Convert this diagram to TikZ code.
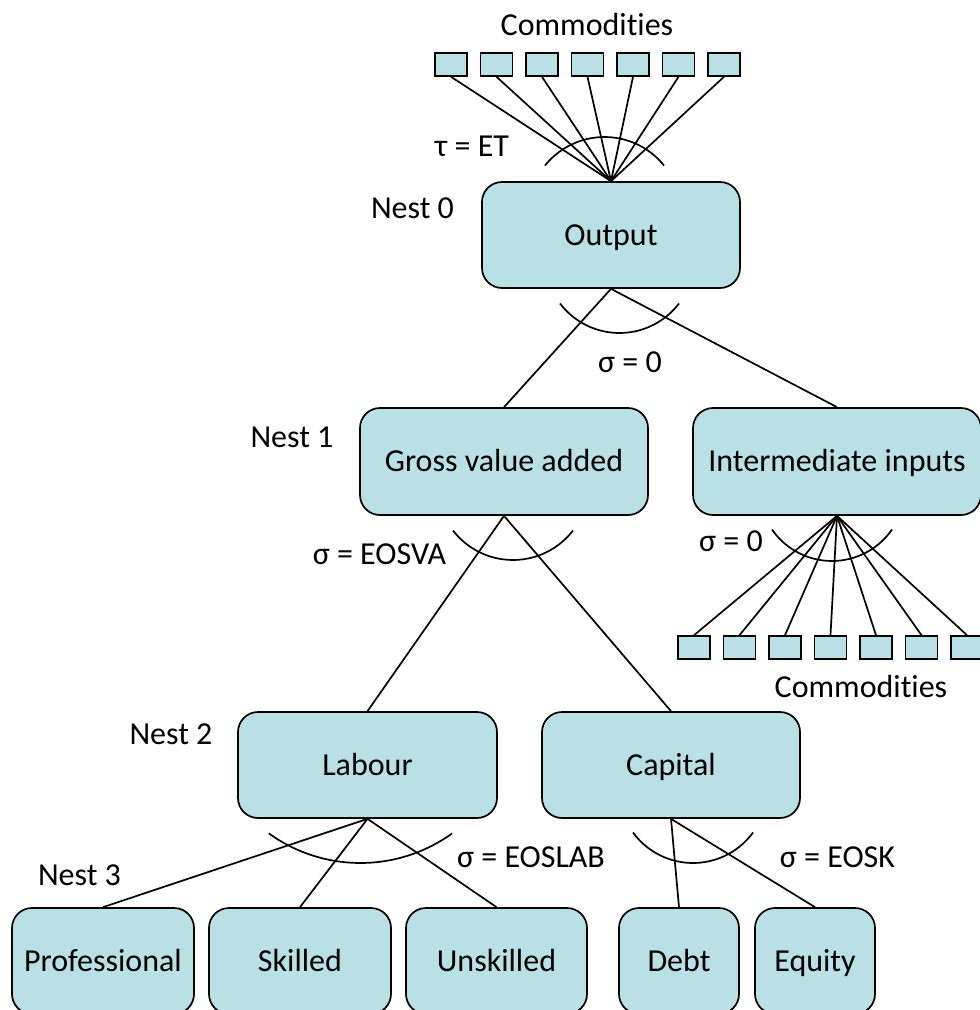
\documentclass[tikz,border=0pt]{standalone}
\usepackage{fontspec}
\setmainfont{Carlito}[Ligatures={NoCommon}]
\definecolor{boxfill}{RGB}{185,224,228}
\newcommand{\cmdtext}{Commodit\kern0pt ies}
\begin{document}
\begin{tikzpicture}[x=1pt,y=1pt,yscale=-1,
  box/.style={draw, line width=1.7pt, fill=boxfill, rounded corners=20pt, inner sep=0pt,
    text height=20.5pt, text depth=0pt, font=\fontsize{32}{38}\selectfont},
  com/.style={draw, line width=1.6pt, fill=boxfill, minimum width=32pt, minimum height=23pt, inner sep=0pt},
  lbl/.style={anchor=base, inner sep=0pt, font=\fontsize{32}{38}\selectfont},
  conn/.style={line width=1.7pt}]
\useasboundingbox (0,0) rectangle (980,1010);
\clip (0,0) rectangle (980,1010);
% main boxes
\node[box, minimum width=258pt, minimum height=106pt] (out) at (611,235) {Output};
\node[box, minimum width=288pt, minimum height=107pt] (gva) at (504,461.5) {Gross value added};
\node[box, minimum width=288pt, minimum height=107pt] (ii) at (837,461.5) {Intermediate inputs};
\node[box, minimum width=259pt, minimum height=106pt] (lab) at (367.5,765) {Labour};
\node[box, minimum width=258pt, minimum height=106pt] (cap) at (671,765) {Capital};
\node[box, minimum width=182pt, minimum height=106pt] (prof) at (103,961) {Professional};
\node[box, minimum width=182pt, minimum height=106pt] (skil) at (300,961) {Skilled};
\node[box, minimum width=181pt, minimum height=106pt] (unsk) at (496.5,961) {Unskilled};
\node[box, minimum width=120pt, minimum height=106pt] (debt) at (679,961) {Debt};
\node[box, minimum width=120pt, minimum height=106pt] (eq) at (815,961) {Equity};
% commodity boxes
\foreach \i in {0,...,6} {
  \node[com] (t\i) at ({451+45.5*\i},64.5) {};
  \draw[conn] (t\i.south) -- (out.north);
  \node[com] (b\i) at ({694+45.5*\i},647.5) {};
  \draw[conn] (ii.south) -- (b\i.north);
}
% connectors
\draw[conn] (out.south) -- (gva.north);
\draw[conn] (out.south) -- (ii.north);
\draw[conn] (gva.south) -- (lab.north);
\draw[conn] (gva.south) -- (cap.north);
\draw[conn] (lab.south) -- (prof.north);
\draw[conn] (lab.south) -- (skil.north);
\draw[conn] (lab.south) -- (unsk.north);
\draw[conn] (cap.south) -- (debt.north);
\draw[conn] (cap.south) -- (eq.north);
% arcs
\draw[conn] (604.5,213.4) ++(218.8:76.4) arc[start angle=218.8, end angle=321.2, radius=76.4];
\draw[conn] (619.5,258.3) ++(37.2:74.7) arc[start angle=37.2, end angle=142.8, radius=74.7];
\draw[conn] (832,488.1) ++(34.6:72.9) arc[start angle=34.6, end angle=145.4, radius=72.9];
\draw[conn] (513,484.2) ++(37.7:75.8) arc[start angle=37.7, end angle=142.3, radius=75.8];
\draw[conn] (360.5,706.4) ++(54.2:156.6) arc[start angle=54.2, end angle=125.8, radius=156.6];
\draw[conn] (693,788.7) ++(36.1:74.3) arc[start angle=36.1, end angle=143.9, radius=74.3];
% labels
\node[lbl] (lc1) at (587,35) {\cmdtext};
\node[lbl] (ltau) at (472,156.5) {τ = ET};
\node[lbl] (n0) at (412.5,218) {Nest 0};
\node[lbl] (ls0) at (630,372) {σ = 0};
\node[lbl] (n1) at (292,447) {Nest 1};
\node[lbl] (ls1) at (731,551) {σ = 0};
\node[lbl] (lc2) at (861,697) {\cmdtext};
\node[lbl] (lva) at (379.5,564) {σ = EOSVA};
\node[lbl] (n2) at (171,744) {Nest 2};
\node[lbl] (llab) at (531,867) {σ = EOSLAB};
\node[lbl] (lk) at (837.5,867) {σ = EOSK};
\node[lbl] (n3) at (79.5,885) {Nest 3};
\end{tikzpicture}
\end{document}
